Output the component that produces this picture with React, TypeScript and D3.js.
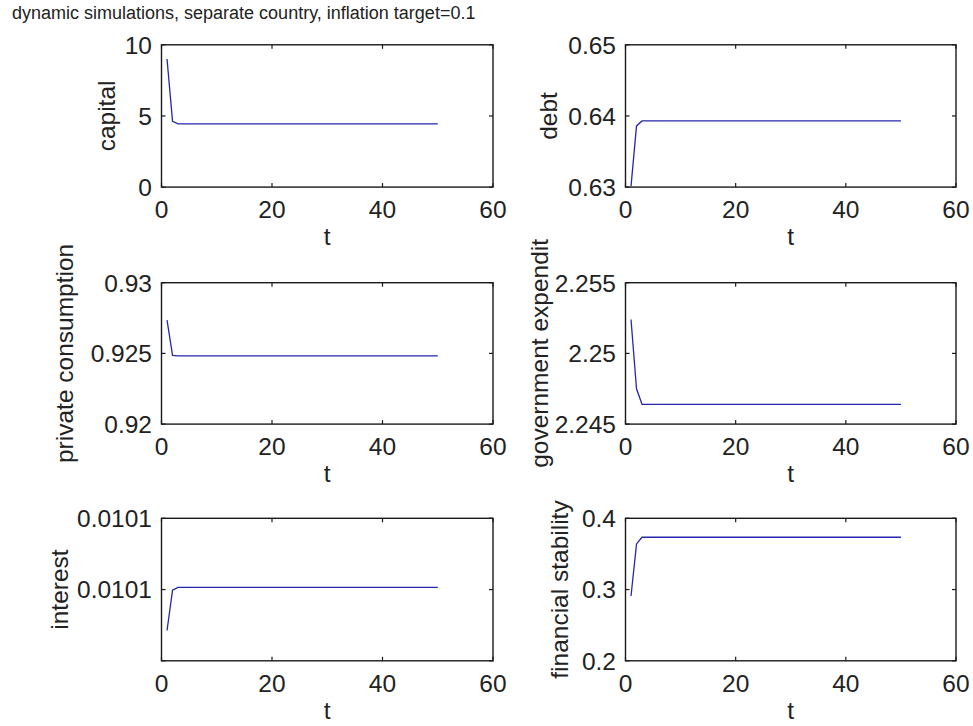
import React from "react";
import * as d3 from "d3";

const W = 973;
const H = 726;

const titleText = "dynamic simulations, separate country, inflation target=0.1";

const tValues = [
  1, 2, 3, 4, 5, 6, 7, 8, 9, 10,
  11, 12, 13, 14, 15, 16, 17, 18, 19, 20,
  21, 22, 23, 24, 25, 26, 27, 28, 29, 30,
  31, 32, 33, 34, 35, 36, 37, 38, 39, 40,
  41, 42, 43, 44, 45, 46, 47, 48, 49, 50,
];

const capitalValues = [
  9.0, 4.62, 4.45, 4.45, 4.45, 4.45, 4.45, 4.45, 4.45, 4.45,
  4.45, 4.45, 4.45, 4.45, 4.45, 4.45, 4.45, 4.45, 4.45, 4.45,
  4.45, 4.45, 4.45, 4.45, 4.45, 4.45, 4.45, 4.45, 4.45, 4.45,
  4.45, 4.45, 4.45, 4.45, 4.45, 4.45, 4.45, 4.45, 4.45, 4.45,
  4.45, 4.45, 4.45, 4.45, 4.45, 4.45, 4.45, 4.45, 4.45, 4.45,
];

const debtValues = [
  0.6301, 0.6386, 0.6393, 0.6393, 0.6393, 0.6393, 0.6393, 0.6393, 0.6393, 0.6393,
  0.6393, 0.6393, 0.6393, 0.6393, 0.6393, 0.6393, 0.6393, 0.6393, 0.6393, 0.6393,
  0.6393, 0.6393, 0.6393, 0.6393, 0.6393, 0.6393, 0.6393, 0.6393, 0.6393, 0.6393,
  0.6393, 0.6393, 0.6393, 0.6393, 0.6393, 0.6393, 0.6393, 0.6393, 0.6393, 0.6393,
  0.6393, 0.6393, 0.6393, 0.6393, 0.6393, 0.6393, 0.6393, 0.6393, 0.6393, 0.6393,
];

const consumptionValues = [
  0.92735, 0.92486, 0.92483, 0.92483, 0.92483, 0.92483, 0.92483, 0.92483, 0.92483, 0.92483,
  0.92483, 0.92483, 0.92483, 0.92483, 0.92483, 0.92483, 0.92483, 0.92483, 0.92483, 0.92483,
  0.92483, 0.92483, 0.92483, 0.92483, 0.92483, 0.92483, 0.92483, 0.92483, 0.92483, 0.92483,
  0.92483, 0.92483, 0.92483, 0.92483, 0.92483, 0.92483, 0.92483, 0.92483, 0.92483, 0.92483,
  0.92483, 0.92483, 0.92483, 0.92483, 0.92483, 0.92483, 0.92483, 0.92483, 0.92483, 0.92483,
];

const governmentValues = [
  2.2524, 2.2475, 2.2464, 2.2464, 2.2464, 2.2464, 2.2464, 2.2464, 2.2464, 2.2464,
  2.2464, 2.2464, 2.2464, 2.2464, 2.2464, 2.2464, 2.2464, 2.2464, 2.2464, 2.2464,
  2.2464, 2.2464, 2.2464, 2.2464, 2.2464, 2.2464, 2.2464, 2.2464, 2.2464, 2.2464,
  2.2464, 2.2464, 2.2464, 2.2464, 2.2464, 2.2464, 2.2464, 2.2464, 2.2464, 2.2464,
  2.2464, 2.2464, 2.2464, 2.2464, 2.2464, 2.2464, 2.2464, 2.2464, 2.2464, 2.2464,
];

const interestValues = [
  0.0100885, 0.0100998, 0.0101006, 0.0101006, 0.0101006, 0.0101006, 0.0101006, 0.0101006, 0.0101006, 0.0101006,
  0.0101006, 0.0101006, 0.0101006, 0.0101006, 0.0101006, 0.0101006, 0.0101006, 0.0101006, 0.0101006, 0.0101006,
  0.0101006, 0.0101006, 0.0101006, 0.0101006, 0.0101006, 0.0101006, 0.0101006, 0.0101006, 0.0101006, 0.0101006,
  0.0101006, 0.0101006, 0.0101006, 0.0101006, 0.0101006, 0.0101006, 0.0101006, 0.0101006, 0.0101006, 0.0101006,
  0.0101006, 0.0101006, 0.0101006, 0.0101006, 0.0101006, 0.0101006, 0.0101006, 0.0101006, 0.0101006, 0.0101006,
];

const stabilityValues = [
  0.291, 0.364, 0.3734, 0.3734, 0.3734, 0.3734, 0.3734, 0.3734, 0.3734, 0.3734,
  0.3734, 0.3734, 0.3734, 0.3734, 0.3734, 0.3734, 0.3734, 0.3734, 0.3734, 0.3734,
  0.3734, 0.3734, 0.3734, 0.3734, 0.3734, 0.3734, 0.3734, 0.3734, 0.3734, 0.3734,
  0.3734, 0.3734, 0.3734, 0.3734, 0.3734, 0.3734, 0.3734, 0.3734, 0.3734, 0.3734,
  0.3734, 0.3734, 0.3734, 0.3734, 0.3734, 0.3734, 0.3734, 0.3734, 0.3734, 0.3734,
];

const xTicks = [0, 20, 40, 60];
const xTickLabels = ["0", "20", "40", "60"];

const capitalTicks = [0, 5, 10];
const capitalTickLabels = ["0", "5", "10"];
const debtTicks = [0.63, 0.64, 0.65];
const debtTickLabels = ["0.63", "0.64", "0.65"];
const consumptionTicks = [0.92, 0.925, 0.93];
const consumptionTickLabels = ["0.92", "0.925", "0.93"];
const governmentTicks = [2.245, 2.25, 2.255];
const governmentTickLabels = ["2.245", "2.25", "2.255"];
const interestTicks = [0.01008, 0.0101, 0.01012];
const interestTickLabels = ["", "0.0101", "0.0101"];
const stabilityTicks = [0.2, 0.3, 0.4];
const stabilityTickLabels = ["0.2", "0.3", "0.4"];

const FONT = "'Liberation Sans', Arial, Helvetica, sans-serif";
const LINE_COLOR = "#2626ad";
const TEXT_COLOR = "#222";

type PanelSpec = {
  label: string;
  values: number[];
  domain: [number, number];
  ticks: number[];
  tickLabels: string[];
  left: number;
  top: number;
  width: number;
  height: number;
  labelOffset: number;
};

const COL_LEFT = [161.5, 625.5];
const COL_WIDTH = [331.5, 330.5];
const ROW_TOP = [44.8, 282.7, 518.3];
const ROW_HEIGHT = [142.3, 141.4, 142.5];

const panels: PanelSpec[] = [
  { label: "capital", values: capitalValues, domain: [0, 10], ticks: capitalTicks, tickLabels: capitalTickLabels, left: COL_LEFT[0], top: ROW_TOP[0], width: COL_WIDTH[0], height: ROW_HEIGHT[0], labelOffset: 55.5 },
  { label: "debt", values: debtValues, domain: [0.63, 0.65], ticks: debtTicks, tickLabels: debtTickLabels, left: COL_LEFT[1], top: ROW_TOP[0], width: COL_WIDTH[1], height: ROW_HEIGHT[0], labelOffset: 77.5 },
  { label: "private consumption", values: consumptionValues, domain: [0.92, 0.93], ticks: consumptionTicks, tickLabels: consumptionTickLabels, left: COL_LEFT[0], top: ROW_TOP[1], width: COL_WIDTH[0], height: ROW_HEIGHT[1], labelOffset: 97.5 },
  { label: "government expendit", values: governmentValues, domain: [2.245, 2.255], ticks: governmentTicks, tickLabels: governmentTickLabels, left: COL_LEFT[1], top: ROW_TOP[1], width: COL_WIDTH[1], height: ROW_HEIGHT[1], labelOffset: 86.5 },
  { label: "interest", values: interestValues, domain: [0.01008, 0.01012], ticks: interestTicks, tickLabels: interestTickLabels, left: COL_LEFT[0], top: ROW_TOP[2], width: COL_WIDTH[0], height: ROW_HEIGHT[2], labelOffset: 102.5 },
  { label: "financial stability", values: stabilityValues, domain: [0.2, 0.4], ticks: stabilityTicks, tickLabels: stabilityTickLabels, left: COL_LEFT[1], top: ROW_TOP[2], width: COL_WIDTH[1], height: ROW_HEIGHT[2], labelOffset: 66.5 },
];

const TICK = 4;
const FS = 24.5;
const LFS = 24.5;

function Panel({ p }: { p: PanelSpec }) {
  const x = d3.scaleLinear().domain([0, 60]).range([p.left, p.left + p.width]);
  const y = d3.scaleLinear().domain(p.domain).range([p.top + p.height, p.top]);
  const line = d3
    .line<number>()
    .x((_, i) => x(tValues[i]))
    .y((v) => y(v));
  const bottom = p.top + p.height;
  const right = p.left + p.width;
  const cy = p.top + p.height / 2;
  const cx = p.left + p.width / 2;
  const lx = p.left - p.labelOffset;
  return (
    <g>
      <rect x={p.left} y={p.top} width={p.width} height={p.height} fill="#fff" />
      <path d={line(p.values) || ""} fill="none" stroke={LINE_COLOR} strokeWidth={1.3} />
      <rect x={p.left} y={p.top} width={p.width} height={p.height} fill="none" stroke="#1a1a1a" strokeWidth={1.4} />
      {xTicks.map((t, i) => (
        <g key={"x" + i}>
          <line x1={x(t)} x2={x(t)} y1={bottom} y2={bottom - TICK} stroke="#1a1a1a" strokeWidth={1.2} />
          <line x1={x(t)} x2={x(t)} y1={p.top} y2={p.top + TICK} stroke="#1a1a1a" strokeWidth={1.2} />
          <text x={x(t)} y={bottom + 31} textAnchor="middle" fontSize={FS} fontFamily={FONT} fill={TEXT_COLOR}>
            {xTickLabels[i]}
          </text>
        </g>
      ))}
      {p.ticks.map((t, i) => (
        <g key={"y" + i}>
          <line x1={p.left} x2={p.left + TICK} y1={y(t)} y2={y(t)} stroke="#1a1a1a" strokeWidth={1.2} />
          <line x1={right} x2={right - TICK} y1={y(t)} y2={y(t)} stroke="#1a1a1a" strokeWidth={1.2} />
          <text x={p.left - 9.5} y={y(t)} dy="0.36em" textAnchor="end" fontSize={FS} fontFamily={FONT} fill={TEXT_COLOR}>
            {p.tickLabels[i]}
          </text>
        </g>
      ))}
      <text x={cx} y={bottom + 58} textAnchor="middle" fontSize={FS} fontFamily={FONT} fill={TEXT_COLOR}>
        t
      </text>
      <text
        transform={`translate(${lx},${cy}) rotate(-90)`}
        dy="0.36em"
        textAnchor="middle"
        fontSize={LFS}
        fontFamily={FONT}
        fill={TEXT_COLOR}
      >
        {p.label}
      </text>
    </g>
  );
}

export default function App() {
  return (
    <svg
      width={W}
      height={H}
      viewBox={`0 0 ${W} ${H}`}
      style={{ position: "absolute", left: 0, top: 0, background: "#fff" }}
    >
      <rect x={0} y={0} width={W} height={H} fill="#fff" />
      <text x={12} y={19} fontSize={18} fontFamily={FONT} fill={TEXT_COLOR}>
        {titleText}
      </text>
      {panels.map((p, i) => (
        <Panel key={i} p={p} />
      ))}
    </svg>
  );
}
